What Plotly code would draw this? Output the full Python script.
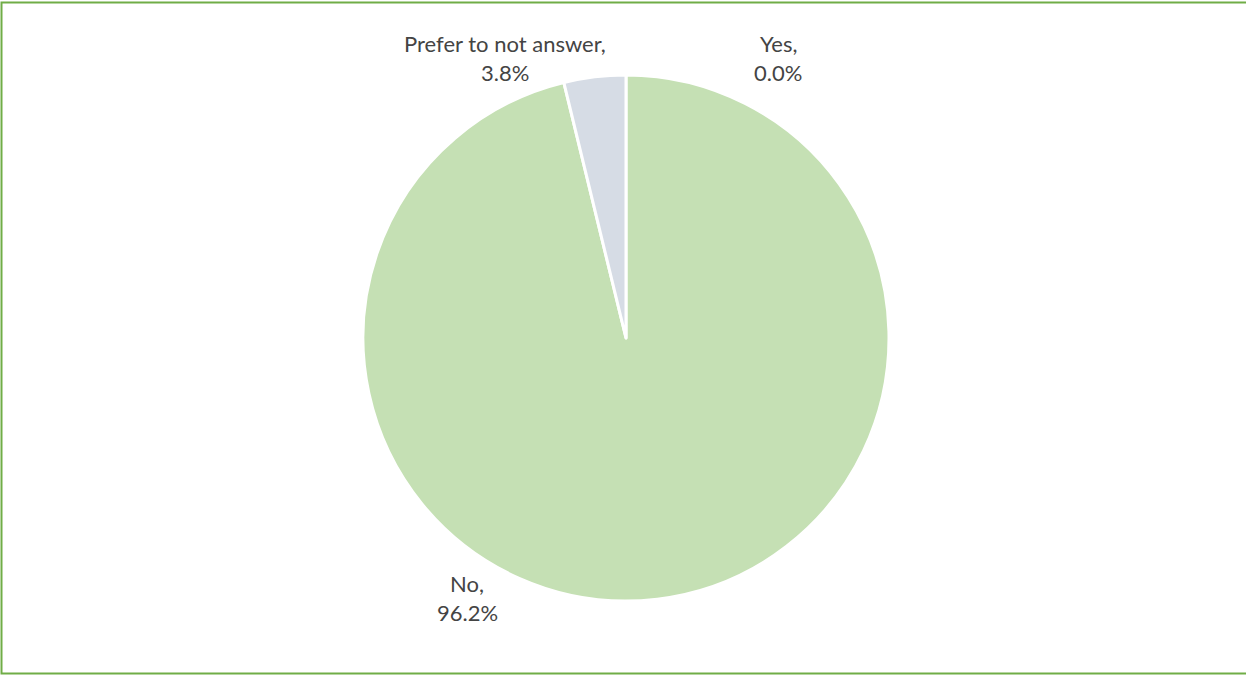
import plotly.graph_objects as go

categories = ["Yes", "No", "Prefer to not answer"]
values = [0.0, 96.2, 3.8]
colors = ["#4472C4", "#C5E0B4", "#D6DCE5"]

W, H = 1246, 675
# label anchor centers in pixels (x, y of first line)
label_pos = {"Yes": (778, 43), "No": (467, 583), "Prefer to not answer": (505, 43)}

cx, cy, r = 626, 338, 263

fig = go.Figure(go.Pie(
    labels=categories, values=values, sort=False, direction="clockwise",
    rotation=0, textinfo="none", hoverinfo="label+percent",
    marker=dict(colors=colors, line=dict(color="white", width=3)),
    domain=dict(x=[(cx - r) / W, (cx + r) / W], y=[1 - (cy + r) / H, 1 - (cy - r) / H]),
    showlegend=False,
))

annotations = []
for cat, val in zip(categories, values):
    px, py = label_pos[cat]
    for i, line in enumerate([f"{cat},", f"{val:.1f}%"]):
        annotations.append(dict(
            x=px / W, y=1 - (py + i * 29) / H, xref="paper", yref="paper",
            text=line, showarrow=False, xanchor="center", yanchor="middle",
            font=dict(family="Lato, Open Sans, sans-serif", size=22, color="#444444"),
        ))

fig.update_layout(
    width=W, height=H, margin=dict(l=0, r=0, t=0, b=0),
    paper_bgcolor="white", plot_bgcolor="white",
    annotations=annotations,
    shapes=[dict(type="rect", xref="paper", yref="paper",
                 x0=1.5 / W, x1=1 + 6 / W, y0=1.5 / H, y1=1 - 2.5 / H,
                 line=dict(color="#70AD47", width=2))],
)

fig.write_html("out.html", config={"displayModeBar": False},
               post_script="document.body.style.margin='0';")
